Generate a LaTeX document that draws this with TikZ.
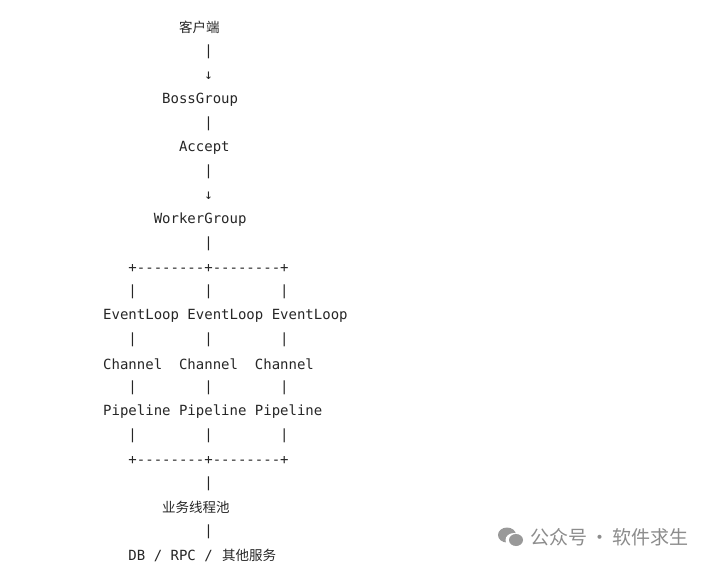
\documentclass[tikz,border=0pt]{standalone}
\usepackage{fontspec}
\setmonofont{DejaVu Sans Mono}
\newfontfamily\cjk{Noto Sans CJK SC}
\begin{document}
\begin{tikzpicture}[x=1pt,y=1pt,
  t/.style={anchor=west,inner sep=0pt,font=\fontsize{14}{14}\ttfamily,text=black!85},
  c/.style={anchor=west,inner sep=0pt,font=\fontsize{13.5}{14}\cjk,text=black!85},
  wm/.style={anchor=west,inner sep=0pt,font=\fontsize{19}{20}\cjk,text=black!45}]
\useasboundingbox[fill=white] (0,0) rectangle (718,-566);
\def\cx#1{103+#1*8.43}
\node[c] (client) at (179,-27) {客户端};
\node[t] (l1) at ({\cx{12}},-52) {|};
\node[t] (a1) at ({\cx{12}},-76) {↓};
\node[t] (boss) at ({\cx{7}},-100) {BossGroup};
\node[t] (l2) at ({\cx{12}},-124) {|};
\node[t] (acc) at ({\cx{9}},-148) {Accept};
\node[t] (l3) at ({\cx{12}},-172) {|};
\node[t] (a2) at ({\cx{12}},-196) {↓};
\node[t] (worker) at ({\cx{6}},-220) {WorkerGroup};
\node[t] (l4) at ({\cx{12}},-244) {|};
\node[t] (p1) at ({\cx{3}},-268) {+--------+--------+};
\node[t] (b1) at ({\cx{3}},-292) {|\ \ \ \ \ \ \ \ |\ \ \ \ \ \ \ \ |};
\node[t] (ev) at ({\cx{0}},-316) {EventLoop EventLoop EventLoop};
\node[t] (b2) at ({\cx{3}},-340) {|\ \ \ \ \ \ \ \ |\ \ \ \ \ \ \ \ |};
\node[t] (ch) at ({\cx{0}},-364) {Channel\ \ Channel\ \ Channel};
\node[t] (b3) at ({\cx{3}},-388) {|\ \ \ \ \ \ \ \ |\ \ \ \ \ \ \ \ |};
\node[t] (pp) at ({\cx{0}},-412) {Pipeline Pipeline Pipeline};
\node[t] (b4) at ({\cx{3}},-436) {|\ \ \ \ \ \ \ \ |\ \ \ \ \ \ \ \ |};
\node[t] (p2) at ({\cx{3}},-460) {+--------+--------+};
\node[t] (l5) at ({\cx{12}},-484) {|};
\node[c] (pool) at (162,-507) {业务线程池};
\node[t] (l6) at ({\cx{12}},-532) {|};
\node[t] (db) at ({\cx{3}},-556) {DB / RPC /};
\node[c] (other) at (222,-555) {其他服务};
% watermark
\fill[black!40] (507,-535) ellipse (9 and 7.5);
\fill[white] (514,-540) ellipse (8.5 and 7);
\fill[black!40] (516,-540) ellipse (7 and 6);
\node[wm] (wmk) at (530,-537) {公众号\,·\,软件求生};
\end{tikzpicture}
\end{document}
